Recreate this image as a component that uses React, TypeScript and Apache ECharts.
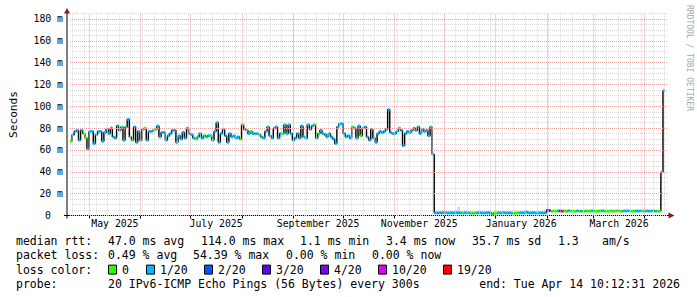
import React, { useEffect, useRef } from "react";
import * as echarts from "echarts";

// ---------- time frame ----------
const END_TIME = Date.UTC(2026, 3, 14, 10, 12, 31);
const RANGE_DAYS = 360;
const DAY = 86400000;
const START_TIME = END_TIME - RANGE_DAYS * DAY;
const STEP_MS = 30.65 * 3600000;

// ---------- data: median RTT (ms) per consolidated step ----------
const medianEarly = [
  68, 74, 77, 78, 69, 78, 75, 71, 61, 77,
  77, 66, 74, 77, 77, 68, 76, 79, 75, 80,
  72, 71, 82, 78, 81, 69, 81, 88, 72, 69,
  81, 67, 77, 69, 79,
  80, 69, 77, 77, 78, 79, 82, 72, 76, 76,
  69, 73, 75, 78, 78, 67, 73, 70, 76, 71,
  80, 75, 74, 71, 70, 72, 75, 71, 73, 72,
  73, 73, 69, 77, 85, 67, 75, 79, 73, 67,
  75, 72, 73,
  71, 72, 70, 83, 79, 78, 75, 77, 75, 75,
  75, 74, 72, 71, 77, 81, 73, 71, 80, 81,
  71, 75, 75, 83, 75, 83, 75, 69, 71, 75,
  71, 82, 72, 71, 83, 79, 82, 83, 71, 75,
  78, 75, 74, 72, 75, 72, 70, 66,
  81, 84, 84, 75, 72, 73, 71, 81, 80, 71,
  82, 73, 80, 81, 72, 69, 79, 71, 67, 75,
  77, 76, 77, 79, 97, 76, 75, 75, 77, 80,
  78, 64, 75, 77, 76, 78, 80, 78, 81, 75,
  79, 77, 78, 73, 81, 56,
];
const lossEarly = [
  0, 1, 1, 1, 1, 1, 0, 0, 1, 1,
  1, 1, 1, 1, 1, 1, 1, 1, 1, 1,
  1, 1, 1, 1, 0, 1, 1, 1, 1, 0,
  1, 1, 1, 1, 1,
  0, 1, 1, 1, 0, 0, 1, 1, 1, 1,
  1, 1, 1, 1, 1, 1, 1, 1, 1, 1,
  1, 1, 1, 1, 0, 1, 1, 1, 0, 1,
  1, 0, 1, 1, 1, 1, 1, 1, 1, 1,
  1, 1, 1,
  1, 1, 0, 0, 1, 1, 1, 0, 1, 1,
  1, 0, 1, 1, 1, 1, 1, 1, 1, 1,
  1, 1, 0, 1, 1, 1, 1, 1, 1, 1,
  1, 1, 1, 1, 1, 1, 1, 0, 1, 0,
  1, 1, 1, 1, 1, 1, 1, 1,
  1, 1, 1, 1, 1, 1, 1, 0, 1, 1,
  1, 0, 1, 1, 1, 1, 1, 1, 1, 1,
  1, 1, 1, 1, 1, 1, 1, 1, 1, 0,
  1, 1, 1, 1, 1, 1, 1, 1, 1, 1,
  1, 1, 1, 1, 1, 1,
];
const medianLate = [
  2.4, 2.2, 2.5, 2.3, 2.8, 2.4, 2.2, 2.5, 2.3, 2.4,
  2.6, 2.3, 2.4, 2.2, 2.5, 2.4, 2.3, 2.1, 2.2, 2.3,
  2.4, 2.5, 2.3, 2.2, 2.4, 2.5, 2.3, 1.1, 2.2, 2.2,
  2.4, 2.3, 2.5, 2.4, 2.3, 2.4, 2.2, 2.1, 2.2, 2.3,
  2.4, 2.5, 2.3, 3.2, 2.4, 2.3, 2.5, 2.4, 2.2, 2.3,
  2.4, 2.3, 2.5, 4.8, 4.5, 4.0, 4.2, 3.9, 4.3, 4.1,
  4.0, 4.2, 3.9, 4.3, 4.1, 4.0, 3.8, 4.2, 4.1, 4.0,
  3.9, 4.1, 4.2, 4.0, 4.3, 3.9, 4.0, 4.1, 4.2, 4.3,
  4.0, 4.1, 3.9, 4.2, 4.0, 4.1, 4.3, 4.0, 3.9, 4.2,
  4.1, 4.3, 4.0, 3.9, 4.1, 4.2, 4.0, 4.3, 4.1, 4.0,
  4.2, 4.0, 4.1, 4.3, 4.0, 3.9, 4.1,
  39.7, 114.4,
];
const lossLate = [
  1, 1, 1, 1, 1, 1, 1, 1, 1, 1,
  1, 1, 1, 0, 1, 1, 1, 0, 0, 0,
  1, 1, 1, 1, 1, 1, 1, 0, 0, 0,
  1, 1, 1, 1, 1, 1, 1, 0, 0, 0,
  1, 1, 1, 1, 1, 1, 1, 1, 1, 1,
  1, 1, 1, 3, 4, 0, 0, 0, 1, 4,
  19, 0, 0, 1, 0, 0, 0, 1, 0, 1,
  0, 0, 0, 0, 1, 0, 0, 0, 0, 1,
  0, 0, 0, 0, 0, 0, 0, 0, 0, 1,
  1, 1, 0, 0, 0, 1, 1, 1, 0, 1,
  1, 1, 1, 0, 1, 0, 0,
  1, 1,
];
// highest ping (smoke top, ms) during the first low-latency stretch
const smokeTopLate = [
  3.6, 4.2, 3.4, 3.9, 4.6, 3.8, 4.0, 3.5, 4.1, 3.7,
  4.4, 8.0, 3.9, 3.6, 4.2, 3.8, 4.0, 3.5, 3.7, 4.1,
  3.9, 4.3, 3.6, 3.8, 4.0, 4.5, 3.7, 3.4, 3.6, 3.9,
  4.2, 3.8, 4.4, 3.7, 3.9, 4.1, 3.6, 3.5, 3.8, 4.0,
  3.9, 4.4, 3.7, 5.2, 4.0, 3.8, 4.3, 3.9, 3.6, 3.8,
  4.1, 3.7, 4.0,
];

// ---------- axes / legend texts ----------
const yLabelValues = [0, 20, 40, 60, 80, 100, 120, 140, 160, 180];
const xLabelMonths = [[2025, 4], [2025, 6], [2025, 8], [2025, 10], [2026, 0], [2026, 2]];
const xLabelTexts = ["May 2025", "July 2025", "September 2025", "November 2025", "January 2026", "March 2026"];

const lossCounts = [0, 1, 2, 3, 4, 10, 19];
const lossLabels = ["0", "1/20", "2/20", "3/20", "4/20", "10/20", "19/20"];
const lossColorList = ["#26ff00", "#00b8ff", "#0059ff", "#5e00ff", "#7e00ff", "#dd00ff", "#ff0000"];

const rttStats = ["47.0 ms avg", "114.0 ms max", "1.1 ms min", "3.4 ms now", "35.7 ms sd", "1.3", "am/s"];
const lossStats = ["0.49 % avg", "54.39 % max", "0.00 % min", "0.00 % now"];
const probeText = "20 IPv6-ICMP Echo Pings (56 Bytes) every 300s";
const endText = "end: Tue Apr 14 10:12:31 2026";

const MONO = '"DejaVu Sans Mono", monospace';

function colorOf(n: number) {
  const i = lossCounts.indexOf(n);
  return i >= 0 ? lossColorList[i] : "#000";
}

export default function App() {
  const ref = useRef<HTMLDivElement>(null);

  useEffect(() => {
    document.body.style.margin = "0";
    if (!ref.current) return;
    const chart = echarts.init(ref.current, undefined, { renderer: "svg" });

    const values = [...medianEarly, ...medianLate];
    const losses = [...lossEarly, ...lossLate];
    const pts = values.map((v, i) => [START_TIME + i * STEP_MS, v, losses[i]]);
    const smokePts = smokeTopLate.map((top, j) => {
      const i = medianEarly.length + j;
      return [START_TIME + i * STEP_MS, values[i], top];
    });

    // grid lines
    const monthStarts: number[] = [];
    for (let i = 0; i < 13; i++) {
      const t = Date.UTC(2025, 4 + i, 1);
      if (t > START_TIME && t < END_TIME) monthStarts.push(t);
    }
    const weekStarts: number[] = [];
    for (let t = Date.UTC(2025, 3, 21); t < END_TIME; t += 7 * DAY) weekStarts.push(t);
    const labelTimes = xLabelMonths.map(([y, m]) => {
      const a = Date.UTC(y, m, 1);
      const b = Date.UTC(y, m + 1, 1);
      return (a + b) / 2;
    });

    const minorGrid = { color: "#d9d9d9", type: [1, 1] as any, width: 1 };
    const majorGrid = { color: "#eba3a3", type: [1, 1] as any, width: 1 };

    const gridLines: any[] = [];
    weekStarts.forEach((t) => gridLines.push({ xAxis: t, lineStyle: minorGrid }));
    monthStarts.forEach((t) => gridLines.push({ xAxis: t, lineStyle: majorGrid }));
    yLabelValues.filter((v) => v > 0).forEach((v) => gridLines.push({ yAxis: v, lineStyle: majorGrid }));

    const graphic: any[] = [];
    const legendFont = `11.5px ${MONO}`;
    const addText = (text: string, x: number, y: number, extra: any = {}) =>
      graphic.push({
        type: "text",
        x,
        y,
        silent: true,
        style: {
          text,
          font: legendFont,
          fill: "#000",
          align: "left",
          textAlign: "left",
          verticalAlign: "middle",
          textVerticalAlign: "middle",
          ...extra,
        },
      });

    const rowY = [241, 255.3, 269.6, 284];
    addText("median rtt:", 16, rowY[0]);
    [108, 201, 300, 386, 472, 558, 602].forEach((x, i) => addText(rttStats[i], x, rowY[0]));
    addText("packet loss:", 16, rowY[1]);
    [108, 193, 286, 372].forEach((x, i) => addText(lossStats[i], x, rowY[1]));
    addText("loss color:", 16, rowY[2]);
    [108, 146, 204, 262, 320, 378, 443].forEach((x, i) => {
      graphic.push({
        type: "rect",
        silent: true,
        shape: { x: x + 0.5, y: rowY[2] - 4.5, width: 8, height: 9 },
        style: { fill: lossColorList[i], stroke: "#000", lineWidth: 1 },
      });
      addText(lossLabels[i], x + 14, rowY[2]);
    });
    addText("probe:", 16, rowY[3]);
    addText(probeText, 108, rowY[3]);
    addText(endText, 680, rowY[3], { align: "right", textAlign: "right" });

    // watermark
    graphic.push({
      type: "text",
      x: 689,
      y: 5,
      rotation: -Math.PI / 2,
      silent: true,
      style: {
        text: "RRDTOOL / TOBI OETIKER",
        font: `8px ${MONO}`,
        fill: "#a8a8a8",
        align: "left",
        textAlign: "left",
        verticalAlign: "middle",
        textVerticalAlign: "middle",
      },
    });

    // axis lines, arrows and extensions
    const arrowColor = "#8c1c1c";
    graphic.push({ type: "line", silent: true, shape: { x1: 67, y1: 215.5, x2: 67, y2: 218.5 }, style: { stroke: "#000", lineWidth: 1 } });
    graphic.push({ type: "line", silent: true, shape: { x1: 64, y1: 215.5, x2: 669, y2: 215.5 }, style: { stroke: "#000", lineWidth: 1 } });
    graphic.push({ type: "line", silent: true, shape: { x1: 67, y1: 215.5, x2: 67, y2: 12 }, style: { stroke: "#000", lineWidth: 1 } });
    graphic.push({ type: "polygon", silent: true, shape: { points: [[64, 13.5], [70, 13.5], [67, 8]] }, style: { fill: arrowColor } });
    graphic.push({ type: "polygon", silent: true, shape: { points: [[668.5, 212.5], [668.5, 218.5], [674.5, 215.5]] }, style: { fill: arrowColor } });

    const option: any = {
      animation: false,
      backgroundColor: "#ffffff",
      grid: { left: 67, right: 30, top: 13.5, bottom: 81.5, containLabel: false },
      xAxis: {
        type: "value",
        min: START_TIME,
        max: END_TIME,
        axisLine: { show: false },
        axisTick: { show: true, customValues: monthStarts, length: 3, inside: false, lineStyle: { color: "#000" } },
        splitLine: { show: false },
        axisLabel: {
          customValues: labelTimes,
          margin: 3,
          fontFamily: MONO,
          fontSize: 9.8,
          color: "#000",
          formatter: (v: number) => {
            const i = labelTimes.findIndex((t) => Math.abs(t - v) < DAY);
            return i >= 0 ? xLabelTexts[i] : "";
          },
        },
      },
      yAxis: {
        type: "value",
        min: 0,
        max: 185,
        interval: 5,
        name: "Seconds",
        nameLocation: "middle",
        nameRotate: 90,
        nameGap: 51,
        nameTextStyle: { fontFamily: MONO, fontSize: 11.1, color: "#000" },
        axisLine: { show: false },
        axisTick: { show: false },
        splitLine: { show: true, lineStyle: minorGrid },
        axisLabel: {
          customValues: yLabelValues,
          margin: 7,
          fontFamily: MONO,
          fontSize: 9.8,
          color: "#000",
          formatter: (v: number) => (v === 0 ? "{z|0}" : `${v} m`),
          rich: { z: { fontFamily: MONO, fontSize: 9.8, color: "#000", padding: [0, 12, 0, 0] } },
        },
      },
      graphic,
      series: [
        {
          type: "line",
          data: [],
          z: 1,
          silent: true,
          markLine: {
            silent: true,
            symbol: ["none", "none"],
            label: { show: false },
            emphasis: { disabled: true },
            animation: false,
            data: gridLines,
          },
        },
        {
          type: "custom",
          data: smokePts,
          z: 2,
          silent: true,
          encode: { x: 0, y: [1, 2] },
          renderItem: (_params: any, api: any) => {
            const t = api.value(0) as number;
            const lo = api.value(1) as number;
            const hi = api.value(2) as number;
            const a = api.coord([t, hi]);
            const b = api.coord([t + STEP_MS, lo]);
            return {
              type: "rect",
              shape: { x: a[0], y: a[1], width: Math.max(b[0] - a[0], 1), height: Math.max(b[1] - a[1], 0) },
              style: { fill: "#cdcdcd" },
            };
          },
        },
        {
          type: "line",
          data: pts.map((p) => [p[0], p[1]]),
          step: "end",
          showSymbol: false,
          z: 3,
          silent: true,
          lineStyle: { color: "#000", width: 1.4 },
        },
        {
          type: "custom",
          data: pts,
          z: 4,
          silent: true,
          encode: { x: 0, y: 1 },
          renderItem: (_params: any, api: any) => {
            const t = api.value(0) as number;
            const v = api.value(1) as number;
            const c = api.value(2) as number;
            const a = api.coord([t, v]);
            const b = api.coord([t + STEP_MS, v]);
            return {
              type: "rect",
              shape: { x: a[0], y: a[1] - 1.4, width: Math.max(b[0] - a[0], 1), height: 2.8 },
              style: { fill: colorOf(c) },
            };
          },
        },
      ],
    };

    chart.setOption(option);
    return () => chart.dispose();
  }, []);

  return <div ref={ref} style={{ width: 697, height: 297 }} />;
}
